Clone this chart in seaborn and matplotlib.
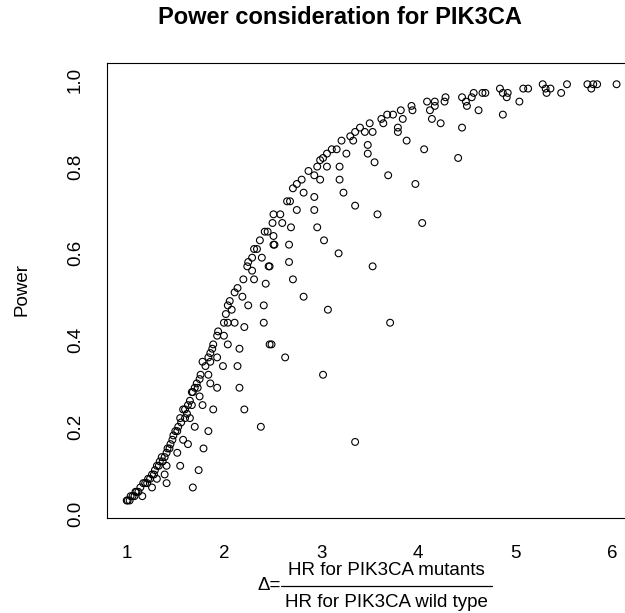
import matplotlib
matplotlib.use("Agg")
import matplotlib.pyplot as plt
from matplotlib.lines import Line2D
import seaborn as sns
import pandas as pd

delta = [
    1.00, 1.03, 1.01, 1.06, 1.09, 1.16, 1.12, 1.14, 1.17, 1.21, 1.22, 1.26, 1.26, 1.29, 1.31, 1.31,
    1.34, 1.36, 1.39, 1.39, 1.41, 1.41, 1.41, 1.42, 1.45, 1.48, 1.50, 1.52, 1.52, 1.53, 1.55, 1.55,
    1.58, 1.58, 1.60, 1.60, 1.63, 1.63, 1.65, 1.65, 1.67, 1.67, 1.68, 1.68, 1.70, 1.70, 1.72, 1.74,
    1.75, 1.75, 1.78, 1.78, 1.79, 1.84, 1.84, 1.86, 1.86, 1.89, 1.93, 1.99, 2.14, 2.16, 2.21, 2.38,
    1.04, 1.08, 1.10, 1.19, 1.24, 1.28, 1.33, 1.37, 1.44, 1.47, 1.56, 1.62, 1.73, 1.76, 1.81,
    2.51, 2.50, 2.45, 2.42, 2.51, 2.51, 2.37, 2.34, 2.31, 2.39, 2.29, 2.25, 2.24, 2.29, 2.46, 2.20,
    2.31, 2.43, 2.14, 2.11, 2.19, 2.25, 2.41, 2.06, 2.04, 2.08, 2.02, 2.00, 2.04, 2.11, 2.21, 2.41,
    1.94, 1.93, 2.00, 2.04, 2.16, 2.47, 1.89, 1.88, 1.86, 1.84, 1.93,
    2.75, 2.93, 3.58, 4.04, 2.58, 2.60, 2.69, 2.96, 2.52, 2.67, 3.03, 3.18, 2.47, 2.67, 3.53, 2.71,
    2.82, 3.07, 3.71, 2.49, 2.63, 3.02, 3.35,
    4.28, 4.09, 4.17, 4.12, 4.14, 4.23, 4.17, 3.93, 3.94, 3.82, 3.84, 3.74, 3.68, 3.62, 3.64, 3.79,
    3.79, 3.88, 4.06, 3.50, 3.45, 3.40, 3.35, 3.53, 3.30, 3.33, 3.21, 3.48, 3.48, 3.55, 3.16, 3.11,
    3.06, 3.02, 2.99, 3.26, 3.06, 3.19, 2.96, 2.87, 2.93, 2.99, 3.19, 2.80, 2.75, 2.71, 2.82, 3.23,
    3.69, 3.97, 2.65, 2.68, 2.93, 3.35,
    4.27, 4.45, 4.49, 4.50, 4.55, 4.57, 4.66, 4.69, 4.62, 4.45, 4.41, 4.84, 4.87, 4.91, 4.92, 4.87,
    5.04, 5.08, 5.13, 5.28, 5.31, 5.32, 5.36, 5.47, 5.53, 5.74, 5.78, 5.80, 5.84, 6.04,
]
power = [
    0.03, 0.03, 0.03, 0.04, 0.05, 0.04, 0.05, 0.06, 0.07, 0.07, 0.08, 0.06, 0.09, 0.10, 0.11, 0.08,
    0.12, 0.13, 0.13, 0.09, 0.14, 0.11, 0.07, 0.15, 0.16, 0.18, 0.19, 0.19, 0.14, 0.20, 0.22, 0.11,
    0.24, 0.17, 0.24, 0.22, 0.25, 0.16, 0.26, 0.22, 0.28, 0.25, 0.28, 0.06, 0.29, 0.20, 0.30, 0.10,
    0.31, 0.27, 0.35, 0.25, 0.15, 0.32, 0.19, 0.35, 0.30, 0.24, 0.29, 0.34, 0.34, 0.29, 0.24, 0.20,
    0.04, 0.04, 0.05, 0.07, 0.08, 0.09, 0.11, 0.12, 0.15, 0.17, 0.21, 0.23, 0.29, 0.32, 0.34,
    0.69, 0.67, 0.65, 0.65, 0.64, 0.62, 0.63, 0.61, 0.61, 0.59, 0.59, 0.58, 0.57, 0.56, 0.57, 0.54,
    0.54, 0.53, 0.52, 0.51, 0.50, 0.48, 0.48, 0.49, 0.48, 0.47, 0.46, 0.44, 0.44, 0.44, 0.43, 0.44,
    0.42, 0.41, 0.41, 0.39, 0.38, 0.39, 0.39, 0.38, 0.37, 0.36, 0.36,
    0.70, 0.70, 0.69, 0.67, 0.69, 0.67, 0.66, 0.66, 0.62, 0.62, 0.63, 0.60, 0.57, 0.58, 0.57, 0.54,
    0.50, 0.47, 0.44, 0.39, 0.36, 0.32, 0.165,
    0.96, 0.95, 0.95, 0.93, 0.91, 0.90, 0.94, 0.94, 0.93, 0.93, 0.91, 0.92, 0.92, 0.91, 0.90, 0.88,
    0.89, 0.86, 0.84, 0.90, 0.88, 0.89, 0.88, 0.88, 0.87, 0.86, 0.86, 0.85, 0.83, 0.81, 0.84, 0.84,
    0.83, 0.82, 0.815, 0.83, 0.80, 0.80, 0.80, 0.79, 0.78, 0.77, 0.77, 0.77, 0.76, 0.75, 0.74, 0.74,
    0.78, 0.76, 0.72, 0.72, 0.73, 0.71,
    0.95, 0.96, 0.95, 0.94, 0.96, 0.97, 0.97, 0.97, 0.93, 0.89, 0.82, 0.98, 0.97, 0.96, 0.97, 0.92,
    0.95, 0.98, 0.98, 0.99, 0.98, 0.97, 0.98, 0.97, 0.99, 0.99, 0.98, 0.99, 0.99, 0.99,
]

x_ticks = [1, 2, 3, 4, 5, 6]
y_ticks = [0.0, 0.2, 0.4, 0.6, 0.8, 1.0]
y_tick_labels = ["0.0", "0.2", "0.4", "0.6", "0.8", "1.0"]
title = "Power consideration for PIK3CA"
y_label = "Power"
x_label_prefix = "Δ="
x_label_numerator = "HR for PIK3CA mutants"
x_label_denominator = "HR for PIK3CA wild type"

df = pd.DataFrame({"delta": delta, "power": power})

sns.set_style("white")
plt.rcParams["font.family"] = ["Liberation Sans", "DejaVu Sans"]

W, H = 625, 613
fig = plt.figure(figsize=(W / 100, H / 100), dpi=100)
left, right, top, bottom = 107, 636, 63, 518
ax = fig.add_axes([left / W, 1 - bottom / H, (right - left) / W, (bottom - top) / H])

sns.scatterplot(data=df, x="delta", y="power", ax=ax, marker="o", s=24,
                color="black", linewidth=0.8, legend=False)
coll = ax.collections[0]
coll.set_facecolor("none")
coll.set_edgecolor("black")

ax.set_xlim(0.797, 6.24)
ax.set_ylim(-0.0104, 1.039)
ax.set_xticks(x_ticks)
ax.set_xticklabels([str(t) for t in x_ticks])
ax.set_yticks(y_ticks)
ax.set_yticklabels(y_tick_labels, rotation=90, va="center")
ax.tick_params(axis="both", which="major", direction="out", length=8.5, width=0.8,
               color="black", labelsize=13.5, labelcolor="black")
ax.tick_params(axis="x", pad=11)
ax.tick_params(axis="y", pad=8)
for sp in ax.spines.values():
    sp.set_color("black")
    sp.set_linewidth(0.8)
ax.set_xlabel("")
ax.set_ylabel("")

def fx(px):
    return px / W

def fy(py):
    return 1 - py / H

fig.text(fx(340), fy(18), title, ha="center", va="center",
         fontsize=17, fontweight="bold", color="black")
fig.text(fx(22), fy(290), y_label, ha="center", va="center",
         rotation=90, fontsize=13.5, color="black")

# x-axis label drawn as a fraction
fig.text(fx(386), fy(575), x_label_numerator, ha="center", va="baseline",
         fontsize=13.5, color="black")
fig.text(fx(386), fy(607), x_label_denominator, ha="center", va="baseline",
         fontsize=13.5, color="black")
fig.add_artist(Line2D([fx(281), fx(492)], [fy(586), fy(586)],
                      transform=fig.transFigure, color="black", linewidth=0.9))
fig.text(fx(281), fy(590), x_label_prefix, ha="right", va="baseline",
         fontsize=13.5, color="black")

fig.savefig("out.png", dpi=100, facecolor="white")
